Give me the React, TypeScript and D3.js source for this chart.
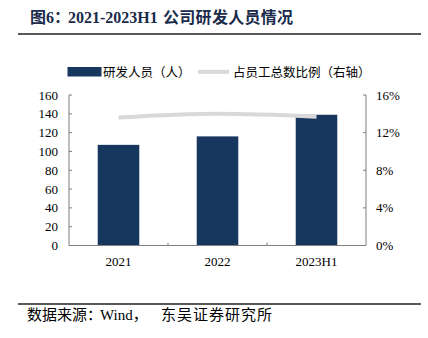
import React from "react";
import * as d3 from "d3";

const categories = ["2021", "2022", "2023H1"];
const staff = [107, 116, 139];
const ratio = [13.6, 14.0, 13.7];
const leftTicks = [0, 20, 40, 60, 80, 100, 120, 140, 160];
const rightTicks = [0, 4, 8, 12, 16];

const W = 428;
const H = 338;
const plot = { left: 69, right: 366, top: 95, bottom: 245.5 };
const serif = "'Liberation Serif', 'Times New Roman', 'Noto Sans CJK SC', serif";
const cjk = "'Liberation Serif', 'Noto Sans CJK SC', serif";
const navy = "#17375E";
const axisColor = "#7f7f7f";
const lineColor = "#d9d9d9";

export default function App() {
  const x = d3.scaleBand<string>().domain(categories).range([plot.left, plot.right]).paddingInner(0.58).paddingOuter(0.29);
  const yL = d3.scaleLinear().domain([0, 160]).range([plot.bottom, plot.top]);
  const yR = d3.scaleLinear().domain([0, 16]).range([plot.bottom, plot.top]);
  const step = x.step();
  const cx = (c: string) => (x(c) as number) + x.bandwidth() / 2;
  const line = d3
    .line<number>()
    .x((_, i) => cx(categories[i]))
    .y((d) => yR(d))
    .curve(d3.curveMonotoneX);
  const boundaries = categories.slice(1).map((c) => cx(c) - step / 2);

  return (
    <svg width={W} height={H} style={{ position: "absolute", left: 0, top: 0, background: "#fff" }}>
      <text y={23} fontFamily={cjk} fontSize={16} fontWeight="bold" fill="#1a2b4c">
        <tspan x={30}>图6：</tspan>
        <tspan x={68}>2021-2023H1</tspan>
        <tspan x={163} letterSpacing={0.3}>公司研发人员情况</tspan>
      </text>
      <line x1={18} x2={421} y1={34} y2={34} stroke="#222" strokeWidth={1.5} />

      {/* legend */}
      <rect x={67.5} y={67} width={34} height={9.5} fill={navy} />
      <text x={103} y={76.5} fontFamily={cjk} fontSize={12.5} fill="#000">研发人员（人）</text>
      <line x1={198} x2={229} y1={71.8} y2={71.8} stroke={lineColor} strokeWidth={4} />
      <text x={233} y={76.5} fontFamily={cjk} fontSize={12.5} fill="#000">占员工总数比例（右轴）</text>

      {/* bars */}
      {categories.map((c, i) => (
        <rect key={c} x={x(c)} y={yL(staff[i])} width={x.bandwidth()} height={plot.bottom - yL(staff[i])} fill={navy} />
      ))}

      {/* line */}
      <path d={line(ratio) || ""} fill="none" stroke={lineColor} strokeWidth={4} />

      {/* left axis */}
      <line x1={plot.left} x2={plot.left} y1={plot.top} y2={plot.bottom} stroke={axisColor} strokeWidth={1} />
      {leftTicks.map((t) => (
        <g key={t}>
          <line x1={plot.left} x2={plot.left + 3} y1={yL(t)} y2={yL(t)} stroke={axisColor} />
          <text x={58} y={yL(t)} dy="0.35em" textAnchor="end" fontFamily={serif} fontSize={13} fill="#000">
            {t}
          </text>
        </g>
      ))}

      {/* right axis */}
      <line x1={plot.right} x2={plot.right} y1={plot.top} y2={plot.bottom} stroke={axisColor} strokeWidth={1} />
      {rightTicks.map((t) => (
        <g key={t}>
          <line x1={plot.right - 3} x2={plot.right} y1={yR(t)} y2={yR(t)} stroke={axisColor} />
          <text x={376} y={yR(t)} dy="0.35em" textAnchor="start" fontFamily={serif} fontSize={13} fill="#000">
            {t}%
          </text>
        </g>
      ))}

      {/* x axis */}
      <line x1={plot.left} x2={plot.right} y1={plot.bottom} y2={plot.bottom} stroke={axisColor} strokeWidth={1} />
      {boundaries.map((b, i) => (
        <line key={i} x1={b} x2={b} y1={plot.bottom - 3} y2={plot.bottom} stroke={axisColor} />
      ))}
      {categories.map((c) => (
        <text key={c} x={cx(c)} y={266} textAnchor="middle" fontFamily={serif} fontSize={13} fill="#000">
          {c}
        </text>
      ))}

      {/* footer */}
      <line x1={18} x2={421} y1={304} y2={304} stroke="#222" strokeWidth={1.5} />
      <text y={320} fontFamily={cjk} fontSize={15} fill="#000">
        <tspan x={27}>数据来源：</tspan>
        <tspan x={100}>Wind，</tspan>
        <tspan x={161} letterSpacing={1}>东吴证券研究所</tspan>
      </text>
    </svg>
  );
}
